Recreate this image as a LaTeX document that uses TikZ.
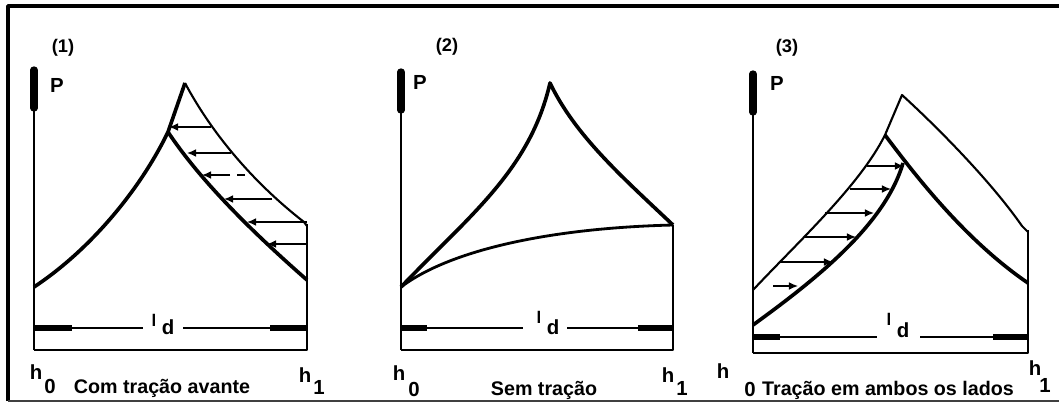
\documentclass[tikz,border=0pt]{standalone}
\usepackage{fontspec}
\setmainfont{Liberation Sans}
\usetikzlibrary{arrows.meta}
\begin{document}
\begin{tikzpicture}[x=0.025cm,y=-0.025cm,line join=round,
  ax/.style={line width=1.8pt},
  bar/.style={line width=4.6pt},
  pbar/.style={line width=5.2pt,line cap=round},
  thk/.style={line width=2.6pt},
  thn/.style={line width=1.5pt},
  ldl/.style={line width=1pt},
  arr/.style={line width=0.9pt,-{Latex[length=6.5pt,width=5.5pt]}},
  txt/.style={font=\fontsize{14.5}{16}\selectfont\bfseries,inner sep=0pt},
  capt/.style={font=\fontsize{14}{16}\selectfont\bfseries,inner sep=0pt,anchor=base},
  num/.style={font=\fontsize{13}{14}\selectfont\bfseries,inner sep=0pt},
  lsm/.style={font=\fontsize{12}{13}\selectfont\bfseries,inner sep=0pt}]
\useasboundingbox (0,0) rectangle (1059,403);
% frame
\draw[line width=2.5pt] (8,401) -- (8,6) -- (1059,6);
\draw[line width=0.9pt,black!75] (8,401) -- (1059,401);

% ---------- panel 1 ----------
\draw[ax] (34,350) -- (34,68);
\draw[pbar] (34,70) -- (34,108);
\draw[ax] (34,350) -- (307,350) -- (307,224);
\draw[ldl] (34,328) -- (143,328);
\draw[ldl] (183,328) -- (307,328);
\draw[bar] (34,328) -- (72,328);
\draw[bar] (270,328) -- (307,328);
\draw[thk] (34,287) .. controls (90,250) and (140,190) .. (168,132) -- (185,83);
\draw[thk] (168,132) .. controls (200,180) and (250,230) .. (307,280);
\draw[thn] (185,83) .. controls (210,130) and (250,180) .. (304,222) -- (307,226);
\draw[arr] (211,127) -- (169,127);
\draw[arr] (231,153) -- (187,153);
\draw[ldl] (245,175) -- (237,175);
\draw[arr] (230,175) -- (202,175);
\draw[arr] (272,199) -- (224,199);
\draw[arr] (307,222) -- (247,222);
\draw[arr] (307,244) -- (267,244);
\node[num] (n1) at (63,48) {(1)};
\node[txt] (p1) at (57,85) {P};
\node[lsm] (la) at (154,320) {l};
\node[txt] (da) at (168,327) {d};
\node[txt] (h0a) at (36,372) {h};
\node[txt] (s0a) at (50,386) {0};
\node[txt] (h1a) at (305,375) {h};
\node[txt] (s1a) at (319,387) {1};
\node[capt] (c1) at (162,393) {Com tração avante};

% ---------- panel 2 ----------
\draw[ax] (401,350) -- (401,70);
\draw[pbar] (401,72) -- (401,110);
\draw[ax] (401,350) -- (673,350) -- (673,225);
\draw[ldl] (401,328) -- (523,328);
\draw[ldl] (567,328) -- (673,328);
\draw[bar] (401,328) -- (427,328);
\draw[bar] (638,328) -- (673,328);
\draw[thk] (401,287) .. controls (470,215) and (530,170) .. (550,83)
  .. controls (575,135) and (620,175) .. (673,225);
\draw[line width=2pt] (401,287) .. controls (450,250) and (550,228) .. (673,225);
\node[num] (n2) at (447,47) {(2)};
\node[txt] (p2) at (420,82) {P};
\node[lsm] (lb) at (539,317) {l};
\node[txt] (db) at (553,327) {d};
\node[txt] (h0b) at (399,373) {h};
\node[txt] (s0b) at (414,389) {0};
\node[txt] (h1b) at (668,375) {h};
\node[txt] (s1b) at (682,388) {1};
\node[capt] (c2) at (544,395) {Sem tração};

% ---------- panel 3 ----------
\draw[ax] (753,353) -- (753,72);
\draw[pbar] (753,74) -- (753,112);
\draw[ax] (753,353) -- (1028,353) -- (1028,230);
\draw[ldl] (753,337) -- (877,337);
\draw[ldl] (920,337) -- (1028,337);
\draw[bar] (753,337) -- (780,337);
\draw[bar] (993,337) -- (1028,337);
\draw[thn] (753,290) .. controls (800,240) and (860,185) .. (885,135) -- (902,95)
  .. controls (935,125) and (990,180) .. (1022,226) -- (1028,232);
\draw[thk] (885,135) .. controls (915,175) and (965,240) .. (1028,283);
\draw[thk] (753,325) .. controls (815,280) and (885,225) .. (903,163);
\draw[arr] (867,166) -- (904,166);
\draw[arr] (850,189) -- (891,189);
\draw[arr] (825,213) -- (874,213);
\draw[arr] (805,237) -- (856,237);
\draw[arr] (780,262) -- (833,262);
\draw[arr] (773,286) -- (798,286);
\node[num] (n3) at (787,48) {(3)};
\node[txt] (p3) at (777,83) {P};
\node[lsm] (lc) at (889,319) {l};
\node[txt] (dc) at (903,330) {d};
\node[txt] (h0c) at (723,371) {h};
\node[txt] (s0c) at (750,389) {0};
\node[txt] (h1c) at (1035,368) {h};
\node[txt] (s1c) at (1045,385) {1};
\node[capt] (c3) at (888,395) {Tração em ambos os lados};
\end{tikzpicture}
\end{document}
